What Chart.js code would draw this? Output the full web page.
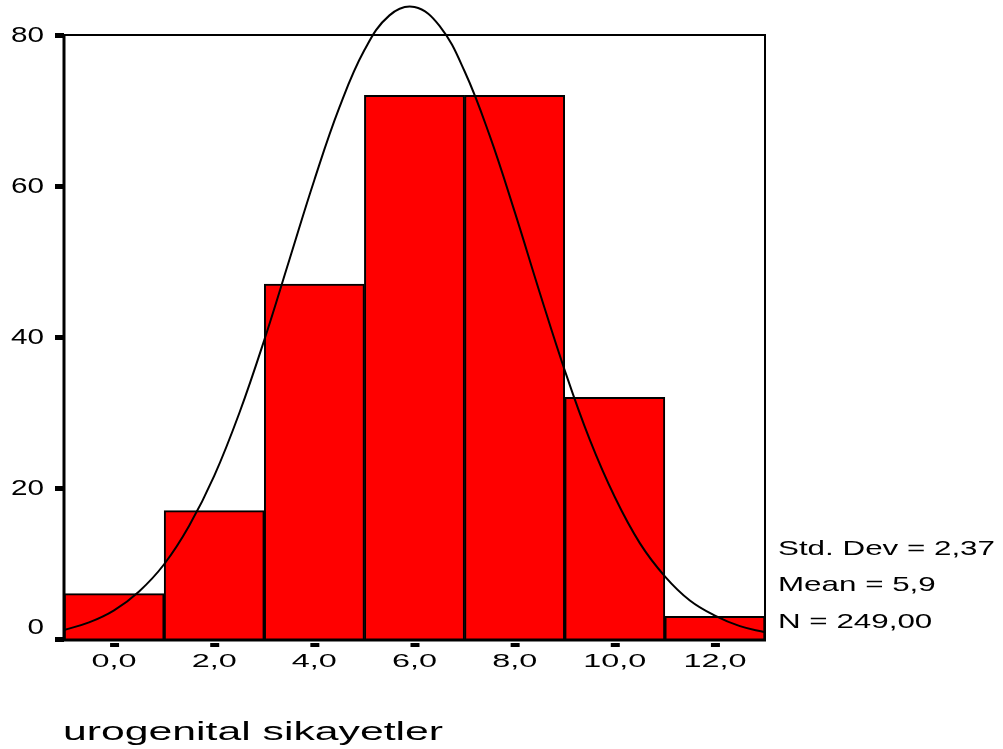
<!DOCTYPE html>
<html>
<head>
<meta charset="utf-8">
<script src="https://cdn.jsdelivr.net/npm/chart.js@4"></script>
<style>
    html, body { margin: 0; padding: 0; background: #fff; }
</style>
</head>
<body>
<canvas id="chart" width="1003" height="749"></canvas>
<script>
// histogram bins (centre of each 2-wide bin) and counts
const binCenters = [0, 2, 4, 6, 8, 10, 12];
const counts = [6, 17, 47, 72, 72, 32, 3];

// normal curve
const curveX = [-1, -0.5, 0, 0.5, 1, 1.5, 2, 2.5, 3, 3.5, 4, 4.5, 5, 5.5, 6, 6.5, 7, 7.5, 8, 8.5, 9, 9.5, 10, 10.5, 11, 11.5, 12, 12.5, 13];
const curveY = [1.2, 2.2, 3.8, 6.3, 9.9, 15, 21.6, 29.9, 39.6, 50.2, 60.8, 70.4, 78, 82.6, 83.7, 81.2, 75.2, 66.7, 56.6, 45.9, 35.6, 26.4, 18.8, 12.7, 8.3, 5.1, 3.1, 1.7, 0.9];

const yTicks = [0, 20, 40, 60, 80];
const yTickLabels = ['0', '20', '40', '60', '80'];
const xTickLabels = ['0,0', '2,0', '4,0', '6,0', '8,0', '10,0', '12,0'];
const statLines = ['Std. Dev = 2,37', 'Mean = 5,9', 'N = 249,00'];
const axisTitle = 'urogenital sikayetler';

const FONT = '"Liberation Sans", Arial, sans-serif';

function stretched(ctx, text, x, y, sx, align) {
    ctx.save();
    ctx.translate(x, y);
    ctx.scale(sx, 1);
    ctx.textAlign = align;
    ctx.fillText(text, 0, 0);
    ctx.restore();
}

const spssDecor = {
    id: 'spssDecor',
    afterDatasetsDraw(chart) {
        const {ctx, chartArea: {left, right, top, bottom}, scales: {x, y}} = chart;
        ctx.save();
        ctx.fillStyle = '#000';
        ctx.strokeStyle = '#000';

        // frame
        ctx.lineWidth = 2;
        ctx.beginPath();
        ctx.moveTo(left, top);
        ctx.lineTo(right, top);
        ctx.lineTo(right, bottom);
        ctx.stroke();
        ctx.lineWidth = 3;
        ctx.beginPath();
        ctx.moveTo(left, top - 1);
        ctx.lineTo(left, bottom + 1);
        ctx.lineTo(right + 1, bottom + 1);
        ctx.stroke();

        // y ticks and labels
        ctx.font = '22px ' + FONT;
        ctx.textBaseline = 'middle';
        let sy = 33 / ctx.measureText('80').width;
        yTicks.forEach((v, i) => {
            const py = y.getPixelForValue(v);
            ctx.fillRect(left - 9, py - 2, 9, 5);
            stretched(ctx, yTickLabels[i], 44, v === 0 ? py - 11 : py + 1, sy, 'right');
        });

        // x ticks and labels
        ctx.font = '19px ' + FONT;
        let sxl = 45 / ctx.measureText('0,0').width;
        binCenters.forEach((v, i) => {
            const px = x.getPixelForValue(v);
            ctx.fillRect(px - 4, bottom + 4, 9, 4);
            stretched(ctx, xTickLabels[i], px, 662, sxl, 'center');
        });

        // stats box
        ctx.textBaseline = 'alphabetic';
        ctx.font = '21px ' + FONT;
        let ss = 217 / ctx.measureText(statLines[0]).width;
        [555, 591, 628].forEach((by, i) => stretched(ctx, statLines[i], 778, by, ss, 'left'));

        // axis title
        ctx.font = '26px ' + FONT;
        let st = 380 / ctx.measureText(axisTitle).width;
        stretched(ctx, axisTitle, 63, 740, st, 'left');

        ctx.restore();
    }
};

const ctx = document.getElementById('chart').getContext('2d');
new Chart(ctx, {
    type: 'bar',
    data: {
        labels: xTickLabels,
        datasets: [
            {
                type: 'line',
                xAxisID: 'x',
                data: curveX.map((v, i) => ({x: v, y: curveY[i]})),
                borderColor: '#000',
                borderWidth: 2,
                pointRadius: 0,
                tension: 0.4,
                fill: false,
                clip: false,
                order: 0
            },
            {
                type: 'bar',
                xAxisID: 'xb',
                data: counts,
                backgroundColor: '#ff0000',
                borderColor: '#000',
                borderWidth: 2,
                barPercentage: 1,
                categoryPercentage: 1,
                grouped: false,
                order: 1
            }
        ]
    },
    options: {
        responsive: false,
        animation: false,
        layout: {padding: {left: 64, top: 35, right: 238, bottom: 110}},
        plugins: {legend: {display: false}, tooltip: {enabled: false}},
        scales: {
            x: {type: 'linear', min: -1, max: 13, offset: false, display: false},
            xb: {type: 'category', labels: xTickLabels, offset: true, display: false},
            y: {type: 'linear', min: 0, max: 80, display: false}
        }
    },
    plugins: [spssDecor]
});
</script>
</body>
</html>
